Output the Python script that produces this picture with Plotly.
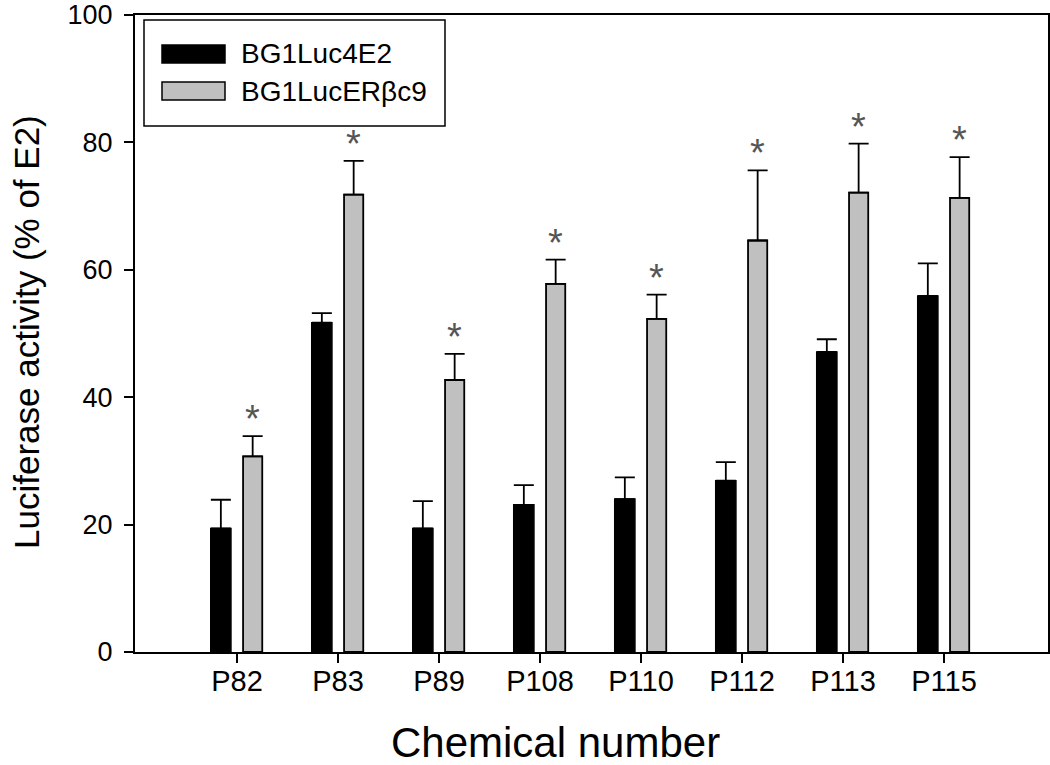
import plotly.graph_objects as go

categories = ["P82", "P83", "P89", "P108", "P110", "P112", "P113", "P115"]
luc4e2 = [19.4, 51.7, 19.4, 23.1, 24.0, 26.9, 47.1, 55.9]
luc4e2_err = [4.5, 1.5, 4.3, 3.1, 3.4, 2.9, 2.0, 5.1]
erb = [30.7, 71.8, 42.7, 57.8, 52.3, 64.6, 72.1, 71.3]
erb_err = [3.2, 5.3, 4.1, 3.8, 3.8, 11.0, 7.7, 6.4]
significant = [True] * 8

series_names = ["BG1Luc4E2", "BG1LucERβc9"]
colors = ["#000000", "#C0C0C0"]

FONT = "Liberation Sans, Arial, sans-serif"

fig = go.Figure()
fig.add_trace(go.Bar(
    x=categories, y=luc4e2, name=series_names[0],
    marker=dict(color=colors[0], line=dict(color="black", width=1.5)),
    offset=-0.26, width=0.2,
    error_y=dict(type="data", array=luc4e2_err, arrayminus=[0]*8, symmetric=False,
                 color="black", thickness=1.8, width=10),
    showlegend=False,
))
fig.add_trace(go.Bar(
    x=categories, y=erb, name=series_names[1],
    marker=dict(color=colors[1], line=dict(color="black", width=1.8)),
    offset=0.06, width=0.19,
    error_y=dict(type="data", array=erb_err, arrayminus=[0]*8, symmetric=False,
                 color="black", thickness=1.8, width=10),
    showlegend=False,
))

# significance stars
for i, c in enumerate(categories):
    if significant[i]:
        fig.add_annotation(x=i + 0.155, y=erb[i] + erb_err[i], text="*", showarrow=False,
                           xref="x", yref="y", yshift=17,
                           font=dict(family=FONT, size=38, color="#555555"))

# layout geometry
L = dict(l=135, r=2, t=15, b=113)
W, H = 1050, 765
pw, ph = W - L["l"] - L["r"], H - L["t"] - L["b"]
def px(x):
    return (x - L["l"]) / pw
def py(y):
    return (H - L["b"] - y) / ph

# custom legend
fig.add_shape(type="rect", xref="paper", yref="paper",
              x0=px(144), x1=px(445), y0=py(126), y1=py(20),
              line=dict(color="black", width=1.5), fillcolor="white", layer="above")
for k, (nm, col) in enumerate(zip(series_names, colors)):
    yc = 54 + k * 37
    fig.add_shape(type="rect", xref="paper", yref="paper",
                  x0=px(162), x1=px(225), y0=py(yc + 9), y1=py(yc - 9),
                  line=dict(color="black", width=1.5), fillcolor=col, layer="above")
    fig.add_annotation(x=px(239), y=py(yc), xref="paper", yref="paper",
                       text=nm, showarrow=False, xanchor="left", yanchor="middle",
                       font=dict(family=FONT, size=28, color="black"))

# axis titles
fig.add_annotation(x=px(555), y=py(742), xref="paper", yref="paper",
                   text="Chemical number", showarrow=False,
                   xanchor="center", yanchor="middle",
                   font=dict(family=FONT, size=42, color="black"))
fig.add_annotation(x=px(26), y=py(332), xref="paper", yref="paper",
                   text="Luciferase activity (% of E2)", showarrow=False, textangle=-90,
                   xanchor="center", yanchor="middle",
                   font=dict(family=FONT, size=35, color="black"))

fig.update_layout(
    width=W, height=H,
    margin=dict(L, autoexpand=False),
    paper_bgcolor="white", plot_bgcolor="white",
    barmode="group",
    font=dict(family=FONT, color="black"),
    xaxis=dict(
        type="category", range=[-1.01, 8.03], automargin=False,
        showline=True, linecolor="black", linewidth=2, mirror=True,
        ticks="outside", ticklen=9, tickwidth=1.5, tickcolor="black",
        tickfont=dict(size=29), showgrid=False, zeroline=False,
        ticklabelstandoff=-7,
    ),
    yaxis=dict(
        range=[0, 100], tickvals=[0, 20, 40, 60, 80, 100], automargin=False,
        showline=True, linecolor="black", linewidth=2, mirror=True,
        ticks="outside", ticklen=9, tickwidth=1.5, tickcolor="black",
        tickfont=dict(size=27), showgrid=False, zeroline=False,
        ticklabelstandoff=6, ticklabeloverflow="allow",
    ),
)

fig.write_html("out.html", config={"displayModeBar": False},
               post_script="document.body.style.margin='0';document.body.style.overflow='hidden';")
